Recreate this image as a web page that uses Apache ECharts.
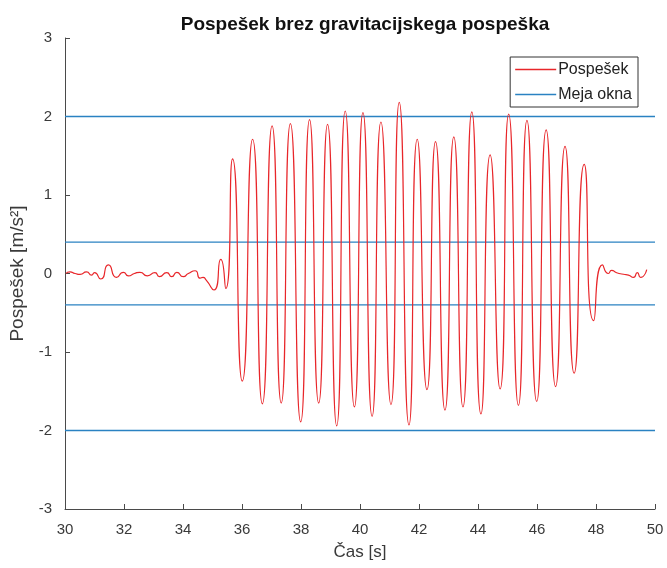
<!DOCTYPE html>
<html>
<head>
<meta charset="utf-8">
<script src="https://cdn.jsdelivr.net/npm/echarts@6/dist/echarts.min.js"></script>
<style>html,body{margin:0;padding:0;background:#fff}#c{width:667px;height:568px}</style>
</head>
<body>
<div id="c"></div>
<script>
var titleText = 'Pospešek brez gravitacijskega pospeška';
var xName = 'Čas [s]';
var yName = 'Pospešek [m/s²]';
var seriesNames = ['Pospešek', 'Meja okna'];
var xTicks = {min: 30, max: 50, interval: 2};
var yTicks = {min: -3, max: 3, interval: 1};

var time = [30.03, 30.17, 30.34, 30.51, 30.73, 30.9, 31.0, 31.21, 31.47, 31.75, 31.98, 32.15, 32.35, 32.54, 32.79, 33.05, 33.2, 33.45, 33.62, 33.79, 34.01, 34.18, 34.41, 34.58, 34.68, 34.78, 35.05, 35.28, 35.45,
  35.68, 36.01, 36.36, 36.69, 37.02, 37.33, 37.64, 37.99, 38.29, 38.6, 38.9, 39.21, 39.5, 39.81, 40.1, 40.41, 40.71, 41.05, 41.33, 41.66, 41.94, 42.27,
  42.56, 42.88, 43.18, 43.49, 43.79, 44.1, 44.41, 44.75, 45.04, 45.37, 45.66, 45.99, 46.31, 46.63, 46.95, 47.26, 47.6, 47.92,
  48.22, 48.42, 48.53, 48.7, 48.93, 49.1, 49.27, 49.4, 49.51, 49.72];
var accel = [0.0, 0.02, 0.0, -0.01, 0.02, -0.02, 0.01, -0.07, 0.11, -0.05, 0.015, -0.03, 0.0, 0.015, -0.03, 0.01, -0.04, 0.01, -0.04, 0.015, -0.04, 0.0, 0.035, -0.06, -0.05, -0.08, -0.21, 0.18, -0.19,
  1.46, -1.37, 1.71, -1.66, 1.88, -1.65, 1.91, -1.89, 1.96, -1.65, 1.90, -1.94, 2.07, -1.70, 2.05, -1.82, 1.93, -1.67, 2.18, -1.93, 1.71, -1.48,
  1.68, -1.74, 1.74, -1.70, 2.06, -1.79, 1.51, -1.47, 2.03, -1.68, 1.95, -1.63, 1.83, -1.44, 1.62, -1.27, 1.39, -0.60,
  0.11, 0.0, 0.04, 0.01, -0.01, -0.02, -0.05, 0.01, -0.05, 0.05];
var limits = [2, 0.4, -0.4, -2];
var limitX = [30, 50];

var redColor = '#e8262a';
var blueColor = '#2a82c2';
var axisColor = '#4a4a4a';
var textColor = '#3a3a3a';
var fontFam = '"Liberation Sans", Arial, sans-serif';

var series = [{
  name: seriesNames[0],
  type: 'line',
  data: time.map(function (t, i) { return [t, accel[i]]; }),
  symbol: 'none',
  smooth: 0.7,
  lineStyle: {color: redColor, width: 1.2},
  itemStyle: {color: redColor},
  z: 3
}];
limits.forEach(function (v) {
  series.push({
    name: seriesNames[1],
    type: 'line',
    data: limitX.map(function (x) { return [x, v]; }),
    symbol: 'none',
    lineStyle: {color: blueColor, width: 1.3},
    itemStyle: {color: blueColor},
    z: 2
  });
});

var chart = echarts.init(document.getElementById('c'), null, {renderer: 'canvas'});
chart.setOption({
  animation: false,
  backgroundColor: '#ffffff',
  title: {
    text: titleText,
    left: 360, top: 10, textAlign: 'center',
    textStyle: {fontFamily: fontFam, fontSize: 19, fontWeight: 'bold', color: '#111'}
  },
  legend: {
    data: [
      {name: seriesNames[0], icon: 'rect', itemStyle: {color: redColor}},
      {name: seriesNames[1], icon: 'rect', itemStyle: {color: blueColor}}
    ],
    orient: 'vertical',
    right: 29, top: 57,
    backgroundColor: '#ffffff',
    borderColor: '#333',
    borderWidth: 1,
    borderRadius: 0,
    padding: [4, 6, 4, 5],
    itemWidth: 41, itemHeight: 1.3,
    itemGap: 8,
    textStyle: {fontFamily: fontFam, fontSize: 16, color: '#222', padding: [0, 0, 0, -3], lineHeight: 17}
  },
  grid: {left: 65, right: 12, top: 38, bottom: 59, containLabel: false},
  xAxis: {
    type: 'value',
    min: xTicks.min, max: xTicks.max, interval: xTicks.interval,
    name: xName, nameLocation: 'middle', nameGap: 35,
    nameTextStyle: {fontFamily: fontFam, fontSize: 17, color: textColor},
    axisLine: {show: true, onZero: false, lineStyle: {color: axisColor, width: 1}},
    axisTick: {show: true, inside: true, length: 5, lineStyle: {color: axisColor}},
    axisLabel: {fontFamily: fontFam, fontSize: 15, color: textColor, margin: 13},
    splitLine: {show: false}
  },
  yAxis: {
    type: 'value',
    min: yTicks.min, max: yTicks.max, interval: yTicks.interval,
    name: yName, nameLocation: 'middle', nameGap: 29, nameRotate: 90,
    nameTextStyle: {fontFamily: fontFam, fontSize: 19, color: textColor},
    axisLine: {show: true, onZero: false, lineStyle: {color: axisColor, width: 1}},
    axisTick: {show: true, inside: true, length: 5, lineStyle: {color: axisColor}},
    axisLabel: {fontFamily: fontFam, fontSize: 15, color: textColor, margin: 13},
    splitLine: {show: false}
  },
  series: series
});
</script>
</body>
</html>
